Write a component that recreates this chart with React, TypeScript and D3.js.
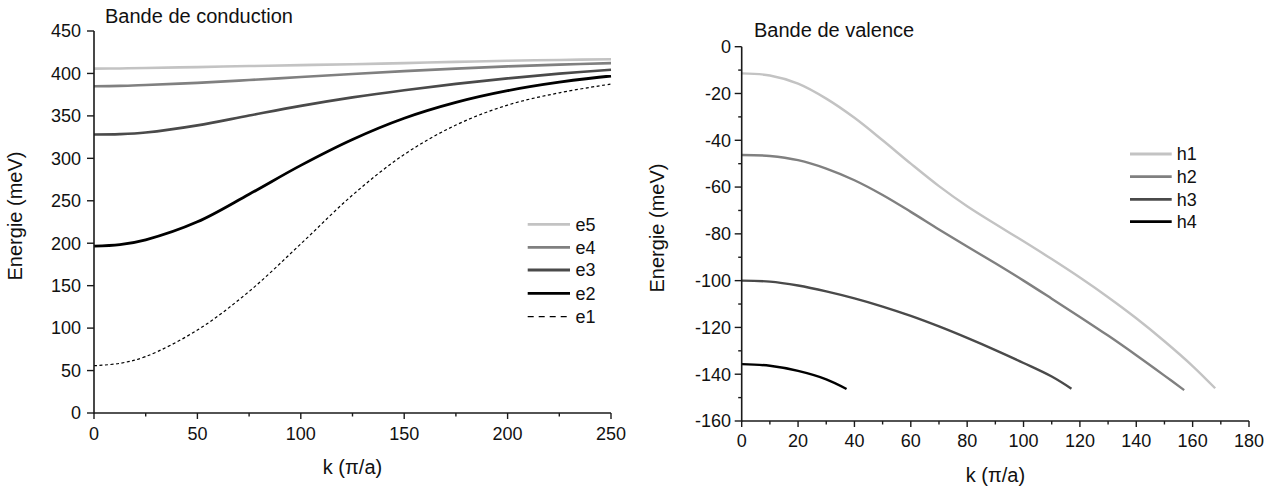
import React from 'react';
import * as d3 from 'd3';

// ---------- Data: conduction band (left) ----------
const kCond = [0, 12.5, 25, 50, 75, 100, 125, 150, 175, 200, 225, 250];
const e5 = [405.7, 405.9, 406.4, 407.5, 408.7, 409.8, 410.8, 412.2, 413.6, 414.9, 415.9, 416.7];
const e4 = [384.9, 385.3, 386.4, 388.9, 392.2, 395.8, 399.4, 402.7, 405.7, 408.3, 410.4, 412.1];
const e3 = [328.0, 328.5, 330.4, 338.8, 350.4, 361.8, 371.8, 380.3, 387.7, 394.2, 399.8, 404.3];
const e2 = [196.6, 198.3, 204.0, 225.2, 257.7, 291.7, 322.2, 347.2, 365.9, 379.7, 389.7, 397.0];
const e1 = [55.7, 58.5, 66.5, 97.7, 143.2, 199.2, 256.7, 304.5, 339.2, 362.7, 377.2, 387.5];

// ---------- Data: valence band (right) ----------
const kH1 = [0, 10, 20, 30, 40, 50, 60, 70, 80, 90, 100, 110, 120, 130, 140, 150, 160, 168];
const h1 = [-11.4, -12.3, -15.8, -22.2, -30.4, -40.0, -50.0, -59.6, -68.2, -75.8, -83.2, -90.8, -98.7, -107.1, -116.1, -125.9, -136.5, -146.0];
const kH2 = [0, 10, 20, 30, 40, 50, 60, 70, 80, 90, 100, 110, 120, 130, 140, 150, 157];
const h2 = [-46.3, -46.7, -48.5, -52.1, -57.1, -63.4, -70.6, -78.1, -85.4, -92.6, -100.0, -107.7, -115.5, -123.5, -131.9, -140.6, -146.8];
const kH3 = [0, 10, 20, 30, 40, 50, 60, 70, 80, 90, 100, 110, 117];
const h3 = [-100.0, -100.4, -102.1, -104.6, -107.6, -111.1, -115.1, -119.6, -124.5, -129.7, -135.2, -141.0, -146.2];
const kH4 = [0, 10, 20, 30, 37.2];
const h4 = [-135.7, -136.4, -138.6, -142.2, -146.3];

// ---------- Ticks ----------
const leftXMajor = [0, 50, 100, 150, 200, 250];
const leftXMinor = [25, 75, 125, 175, 225];
const leftYMajor = [0, 50, 100, 150, 200, 250, 300, 350, 400, 450];
const rightXMajor = [0, 20, 40, 60, 80, 100, 120, 140, 160, 180];
const rightXMinor = [10, 30, 50, 70, 90, 110, 130, 150, 170];
const rightYMajor = [-160, -140, -120, -100, -80, -60, -40, -20, 0];
const rightYMinor = [-150, -130, -110, -90, -70, -50, -30, -10];

const FONT = '"Liberation Sans", Arial, Helvetica, sans-serif';
const AX = '#1a1a1a';

type Series = { name: string; k: number[]; v: number[]; color: string; width: number; dash?: string; legendDash?: string };

const condSeries: Series[] = [
  { name: 'e5', k: kCond, v: e5, color: '#c3c3c3', width: 2.6 },
  { name: 'e4', k: kCond, v: e4, color: '#808080', width: 2.6 },
  { name: 'e3', k: kCond, v: e3, color: '#4a4a4a', width: 2.6 },
  { name: 'e2', k: kCond, v: e2, color: '#000000', width: 2.8 },
  { name: 'e1', k: kCond, v: e1, color: '#000000', width: 1.2, dash: '3,2.5', legendDash: '6,5' },
];

const valSeries: Series[] = [
  { name: 'h1', k: kH1, v: h1, color: '#c3c3c3', width: 2.4 },
  { name: 'h2', k: kH2, v: h2, color: '#808080', width: 2.4 },
  { name: 'h3', k: kH3, v: h3, color: '#4a4a4a', width: 2.4 },
  { name: 'h4', k: kH4, v: h4, color: '#000000', width: 2.4 },
];

function Axes(props: {
  x: d3.ScaleLinear<number, number>;
  y: d3.ScaleLinear<number, number>;
  xMajor: number[]; xMinor: number[]; yMajor: number[]; yMinor: number[];
  xLabelY: number; yLabelX: number;
}) {
  const { x, y, xMajor, xMinor, yMajor, yMinor, xLabelY, yLabelX } = props;
  const [x0, x1] = x.range();
  const [y0, y1] = y.range();
  return (
    <g>
      <line x1={x0} x2={x1} y1={y0} y2={y0} stroke={AX} strokeWidth={1.6} />
      <line x1={x0} x2={x0} y1={y0 + 0.8} y2={y1} stroke={AX} strokeWidth={1.6} />
      {xMajor.map((t) => (
        <g key={'xM' + t}>
          <line x1={x(t)} x2={x(t)} y1={y0} y2={y0 + 6} stroke={AX} strokeWidth={1.4} />
          <text x={x(t)} y={xLabelY} textAnchor="middle" fontSize={18} fontFamily={FONT} fill="#111">{t}</text>
        </g>
      ))}
      {xMinor.map((t) => (
        <line key={'xm' + t} x1={x(t)} x2={x(t)} y1={y0} y2={y0 + 3.5} stroke={AX} strokeWidth={1.4} />
      ))}
      {yMajor.map((t) => (
        <g key={'yM' + t}>
          <line x1={x0 - 7} x2={x0} y1={y(t)} y2={y(t)} stroke={AX} strokeWidth={1.4} />
          <text x={yLabelX} y={y(t)} dy="0.35em" textAnchor="end" fontSize={18} fontFamily={FONT} fill="#111">{t}</text>
        </g>
      ))}
      {yMinor.map((t) => (
        <line key={'ym' + t} x1={x0 - 3.5} x2={x0} y1={y(t)} y2={y(t)} stroke={AX} strokeWidth={1.4} />
      ))}
    </g>
  );
}

function Curves(props: { x: d3.ScaleLinear<number, number>; y: d3.ScaleLinear<number, number>; series: Series[] }) {
  const { x, y, series } = props;
  return (
    <g>
      {[...series].reverse().map((s) => {
        const pts = s.k.map((k, i) => [k, s.v[i]] as [number, number]);
        const gen = d3.line<[number, number]>().x((d) => x(d[0])).y((d) => y(d[1])).curve(d3.curveCatmullRom.alpha(0.5));
        return (
          <path key={s.name} d={gen(pts) || ''} fill="none" stroke={s.color} strokeWidth={s.width}
            strokeDasharray={s.dash} strokeLinecap="butt" strokeLinejoin="round" />
        );
      })}
    </g>
  );
}

function Legend(props: { series: Series[]; x0: number; x1: number; tx: number; ys: number[] }) {
  const { series, x0, x1, tx, ys } = props;
  return (
    <g>
      {series.map((s, i) => (
        <g key={s.name}>
          <line x1={x0} x2={x1} y1={ys[i]} y2={ys[i]} stroke={s.color} strokeWidth={s.dash ? 1.2 : 2.8}
            strokeDasharray={s.legendDash} />
          <text x={tx} y={ys[i]} dy="0.35em" fontSize={18} fontFamily={FONT} fill="#111">{s.name}</text>
        </g>
      ))}
    </g>
  );
}

export default function App() {
  const xL = d3.scaleLinear().domain([0, 250]).range([94, 611]);
  const yL = d3.scaleLinear().domain([0, 450]).range([413, 31]);
  const xR = d3.scaleLinear().domain([0, 180]).range([741.7, 1249]);
  const yR = d3.scaleLinear().domain([-160, 0]).range([421, 46.7]);

  return (
    <svg width={1275} height={490} style={{ position: 'absolute', left: 0, top: 0, background: '#fff' }}
      xmlns="http://www.w3.org/2000/svg">
      <rect x={0} y={0} width={1275} height={490} fill="#fff" />
      {/* Left panel */}
      <Curves x={xL} y={yL} series={condSeries} />
      <Axes x={xL} y={yL} xMajor={leftXMajor} xMinor={leftXMinor} yMajor={leftYMajor} yMinor={[]}
        xLabelY={440} yLabelX={81} />
      <text x={105} y={22.7} fontSize={20} fontFamily={FONT} fill="#111">Bande de conduction</text>
      <text x={352.5} y={474} textAnchor="middle" fontSize={20} fontFamily={FONT} fill="#111">k (π/a)</text>
      <text transform="translate(22,216) rotate(-90)" textAnchor="middle" fontSize={20} fontFamily={FONT} fill="#111">Energie (meV)</text>
      <Legend series={condSeries} x0={527.7} x1={570} tx={575.5} ys={[224.3, 247.3, 270, 293.3, 316.7]} />

      {/* Right panel */}
      <Curves x={xR} y={yR} series={valSeries} />
      <Axes x={xR} y={yR} xMajor={rightXMajor} xMinor={rightXMinor} yMajor={rightYMajor} yMinor={rightYMinor}
        xLabelY={447} yLabelX={731} />
      <text x={754} y={37.3} fontSize={20} fontFamily={FONT} fill="#111">Bande de valence</text>
      <text x={995.4} y={482} textAnchor="middle" fontSize={20} fontFamily={FONT} fill="#111">k (π/a)</text>
      <text transform="translate(664,228) rotate(-90)" textAnchor="middle" fontSize={20} fontFamily={FONT} fill="#111">Energie (meV)</text>
      <Legend series={valSeries} x0={1130} x1={1171.7} tx={1176.7} ys={[154, 176.7, 199.3, 221.7]} />
    </svg>
  );
}
